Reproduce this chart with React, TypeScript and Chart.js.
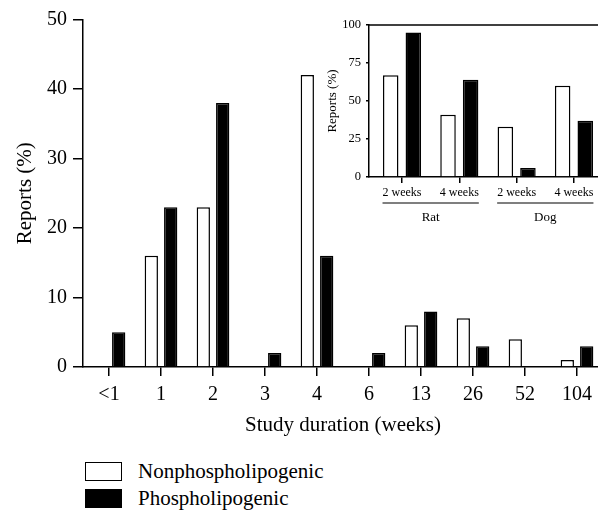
import React, { useEffect, useRef } from "react";
import { Chart, registerables } from "chart.js";

Chart.register(...registerables);

// ---- data ----
const durations = ["<1", "1", "2", "3", "4", "6", "13", "26", "52", "104"];
const nonPhos = [0, 16, 23, 0, 42, 0, 6, 7, 4, 1];
const phos = [5, 23, 38, 2, 16, 2, 8, 3, 0, 3];
const mainYTicks = [0, 10, 20, 30, 40, 50];

const insetLabels = ["2 weeks", "4 weeks", "2 weeks", "4 weeks"];
const insetNonPhos = [67, 41, 33, 60];
const insetPhos = [95, 64, 6, 37];
const insetYTicks = [0, 25, 50, 75, 100];
const insetGroups = ["Rat", "Dog"];
const insetGroupMembers = [
  [0, 1],
  [2, 3],
];

const seriesNames = ["Nonphospholipogenic", "Phospholipogenic"];
const axisTitles = { mainX: "Study duration (weeks)", mainY: "Reports (%)", insetY: "Reports (%)" };

// ---- style ----
const FONT = '"Liberation Serif", "Times New Roman", serif';
const BLACK = "#000";

const zeroAwareBorder = (w: number) => (ctx: any) => (ctx.raw === 0 || (ctx.raw && ctx.raw.y === 0) ? 0 : w);

const insetDecor = {
  id: "insetDecor",
  afterDraw(chart: any) {
    const { ctx, chartArea, scales } = chart;
    const x = scales.x;
    ctx.save();
    ctx.strokeStyle = BLACK;
    ctx.lineWidth = 1.5;
    ctx.beginPath();
    ctx.moveTo(chartArea.left, chartArea.top);
    ctx.lineTo(chartArea.right, chartArea.top);
    ctx.stroke();
    ctx.font = `12px ${FONT}`;
    insetGroups.forEach((g, gi) => {
      const members = insetGroupMembers[gi];
      const first = members[0];
      const last = members[members.length - 1];
      const p0 = x.getPixelForValue(first);
      const p1 = x.getPixelForValue(last);
      const x0 = p0 - ctx.measureText(insetLabels[first]).width / 2;
      const x1 = p1 + ctx.measureText(insetLabels[last]).width / 2;
      const ly = chartArea.bottom + 26;
      ctx.lineWidth = 1.2;
      ctx.beginPath();
      ctx.moveTo(x0, ly);
      ctx.lineTo(x1, ly);
      ctx.stroke();
      ctx.save();
      ctx.font = `13px ${FONT}`;
      ctx.fillStyle = BLACK;
      ctx.textAlign = "center";
      ctx.textBaseline = "middle";
      ctx.fillText(g, (p0 + p1) / 2, chartArea.bottom + 41);
      ctx.restore();
    });
    ctx.restore();
  },
};

function MainChart() {
  const ref = useRef<HTMLCanvasElement | null>(null);
  useEffect(() => {
    if (!ref.current) return;
    const tickFont = { family: FONT, size: 20 };
    const titleFont = { family: FONT, size: 21 };
    const chart = new Chart(ref.current, {
      type: "bar",
      data: {
        labels: durations,
        datasets: [
          {
            label: seriesNames[0],
            data: nonPhos,
            backgroundColor: "#fff",
            borderColor: BLACK,
            borderWidth: zeroAwareBorder(1.5) as any,
            categoryPercentage: 0.746,
            barPercentage: 0.686,
          },
          {
            label: seriesNames[1],
            data: phos,
            backgroundColor: BLACK,
            borderColor: BLACK,
            borderWidth: zeroAwareBorder(1.5) as any,
            categoryPercentage: 0.746,
            barPercentage: 0.686,
          },
        ],
      },
      options: {
        animation: false,
        responsive: false,
        layout: { padding: { top: 19.5, right: 7, left: 0, bottom: 0 } },
        plugins: { legend: { display: false }, tooltip: { enabled: false } },
        scales: {
          x: {
            offset: true,
            grid: { display: true, drawOnChartArea: false, drawTicks: true, tickLength: 9, color: BLACK, lineWidth: 1.5, offset: false },
            border: { display: true, color: BLACK, width: 1.5 },
            ticks: { color: BLACK, font: tickFont, padding: 7, maxRotation: 0, autoSkip: false },
            title: { display: true, text: axisTitles.mainX, color: BLACK, font: titleFont, padding: { top: 0, bottom: 2.4 } },
            afterFit: (s: any) => {
              s.height = 73;
            },
          },
          y: {
            min: 0,
            max: 50,
            afterBuildTicks: (s: any) => {
              s.ticks = mainYTicks.map((v) => ({ value: v }));
            },
            grid: { display: true, drawOnChartArea: false, drawTicks: true, tickLength: 10, color: BLACK, lineWidth: 1.5 },
            border: { display: true, color: BLACK, width: 1.5 },
            ticks: { color: BLACK, font: tickFont, padding: 6 },
            title: { display: true, text: axisTitles.mainY, color: BLACK, font: titleFont, padding: { top: 12.4, bottom: 0 } },
            afterFit: (s: any) => {
              s.width = 83;
            },
          },
        },
      },
    });
    return () => chart.destroy();
  }, []);
  return <canvas ref={ref} width={610} height={440} style={{ position: "absolute", left: 0, top: 0, width: 610, height: 440 }} />;
}

function InsetChart() {
  const ref = useRef<HTMLCanvasElement | null>(null);
  useEffect(() => {
    if (!ref.current) return;
    const chart = new Chart(ref.current, {
      type: "bar",
      data: {
        datasets: [
          {
            label: seriesNames[0],
            data: insetNonPhos.map((v, i) => ({ x: i, y: v })),
            backgroundColor: "#fff",
            borderColor: BLACK,
            borderWidth: zeroAwareBorder(1.5) as any,
            categoryPercentage: 0.789,
            barPercentage: 0.686,
          },
          {
            label: seriesNames[1],
            data: insetPhos.map((v, i) => ({ x: i, y: v })),
            backgroundColor: BLACK,
            borderColor: BLACK,
            borderWidth: zeroAwareBorder(1.5) as any,
            categoryPercentage: 0.789,
            barPercentage: 0.686,
          },
        ],
      },
      options: {
        animation: false,
        responsive: false,
        layout: { padding: { top: 25, right: 7.4, left: 0, bottom: 0 } },
        plugins: { legend: { display: false }, tooltip: { enabled: false } },
        scales: {
          x: {
            type: "linear",
            min: -0.576,
            max: 3.5,
            offset: false,
            afterBuildTicks: (s: any) => {
              s.ticks = insetLabels.map((_, i) => ({ value: i }));
            },
            grid: { display: true, drawOnChartArea: false, drawTicks: true, tickLength: 6, color: BLACK, lineWidth: 1.5, offset: false },
            border: { display: true, color: BLACK, width: 1.5 },
            ticks: {
              color: BLACK,
              font: { family: FONT, size: 12 },
              padding: 3,
              maxRotation: 0,
              autoSkip: false,
              callback: (v: any) => insetLabels[v as number],
            },
            afterFit: (s: any) => {
              s.height = 58;
            },
          },
          y: {
            min: 0,
            max: 100,
            afterBuildTicks: (s: any) => {
              s.ticks = insetYTicks.map((v) => ({ value: v }));
            },
            grid: { display: true, drawOnChartArea: false, drawTicks: true, tickLength: 3, color: BLACK, lineWidth: 1.5 },
            border: { display: true, color: BLACK, width: 1.5 },
            ticks: { color: BLACK, font: { family: FONT, size: 12.5 }, padding: 5 },
            title: { display: true, text: axisTitles.insetY, color: BLACK, font: { family: FONT, size: 13 }, padding: { top: 5, bottom: 0 } },
            afterFit: (s: any) => {
              s.width = 49;
            },
          },
        },
      },
      plugins: [insetDecor],
    });
    return () => chart.destroy();
  }, []);
  return <canvas ref={ref} width={290} height={235} style={{ position: "absolute", left: 320, top: 0, width: 290, height: 235 }} />;
}

function Legend() {
  const colors = ["#fff", BLACK];
  const tops = [462, 489];
  return (
    <>
      {seriesNames.map((name, i) => (
        <React.Fragment key={name}>
          <div
            style={{
              position: "absolute",
              left: 85,
              top: tops[i],
              width: 37,
              height: 19,
              boxSizing: "border-box",
              border: `1.5px solid ${BLACK}`,
              background: colors[i],
            }}
          />
          <div
            style={{
              position: "absolute",
              left: 138,
              top: tops[i] - 2,
              height: 23,
              lineHeight: "23px",
              fontFamily: FONT,
              fontSize: 21,
              color: BLACK,
              whiteSpace: "nowrap",
            }}
          >
            {name}
          </div>
        </React.Fragment>
      ))}
    </>
  );
}

export default function App() {
  return (
    <div style={{ position: "absolute", left: 0, top: 0, width: 598, height: 510, overflow: "hidden", background: "#fff" }}>
      <MainChart />
      <InsetChart />
      <Legend />
    </div>
  );
}
